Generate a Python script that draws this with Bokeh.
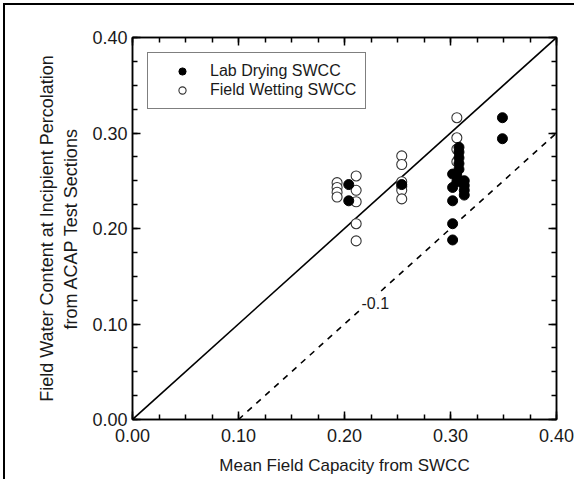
from bokeh.plotting import figure
from bokeh.models import (LinearAxis, FixedTicker, PrintfTickFormatter, Label,
                          Legend, LegendItem, Range1d)
from bokeh.embed import file_html
from bokeh.resources import INLINE

# ---- data ----
lab_x = [0.204, 0.204, 0.254, 0.302, 0.302, 0.302, 0.302, 0.302,
         0.308, 0.308, 0.308, 0.308, 0.308, 0.306, 0.306,
         0.313, 0.313, 0.313, 0.313, 0.349, 0.349]
lab_y = [0.246, 0.229, 0.246, 0.257, 0.243, 0.229, 0.205, 0.188,
         0.285, 0.280, 0.274, 0.268, 0.262, 0.255, 0.249,
         0.250, 0.245, 0.240, 0.235, 0.316, 0.294]

field_x = [0.193, 0.193, 0.193, 0.193,
           0.211, 0.211, 0.211, 0.211, 0.211,
           0.254, 0.254, 0.254, 0.254, 0.254, 0.254,
           0.306, 0.306, 0.306, 0.306]
field_y = [0.248, 0.243, 0.238, 0.233,
           0.255, 0.240, 0.228, 0.205, 0.187,
           0.276, 0.267, 0.249, 0.244, 0.240, 0.231,
           0.316, 0.295, 0.283, 0.270]

one_to_one_x = [0.0, 0.4]
one_to_one_y = [0.0, 0.4]
offset_x = [0.1, 0.4]
offset_y = [0.0, 0.3]
offset_text = "-0.1"

major_ticks = [0.0, 0.1, 0.2, 0.3, 0.4]
minor_ticks = [i * 0.025 for i in range(17)]

FONT = "Liberation Sans"
TXT = "#1a1a1a"

p = figure(frame_width=424, frame_height=382,
           min_border_left=132, min_border_right=18,
           min_border_top=37, min_border_bottom=60,
           x_range=Range1d(0, 0.4), y_range=Range1d(0, 0.4),
           output_backend="svg", toolbar_location=None)
p.grid.visible = False
p.outline_line_color = "black"
p.outline_line_width = 1.5
p.background_fill_color = "white"
p.border_fill_color = None
p.styles = {"box-shadow": "inset 3px 3px 0 0 white, inset 5px 5px 0 0 black"}


def style_axis(ax, labels=True, standoff=6):
    ax.ticker = FixedTicker(ticks=major_ticks, minor_ticks=minor_ticks)
    ax.formatter = PrintfTickFormatter(format="%.2f")
    ax.axis_line_color = "black"
    ax.axis_line_width = 1.5
    ax.major_tick_in = 8
    ax.major_tick_out = 0
    ax.minor_tick_in = 5
    ax.minor_tick_out = 0
    ax.major_tick_line_width = 1.5
    ax.minor_tick_line_width = 1.5
    ax.major_label_text_font = FONT
    if labels:
        ax.major_label_text_color = TXT
        ax.major_label_text_font_size = "18px"
        ax.major_label_standoff = standoff
    else:
        ax.major_label_text_color = None
        ax.major_label_text_font_size = "1px"
        ax.major_label_standoff = 0


for ax in p.xaxis:
    style_axis(ax, standoff=9)
for ax in p.yaxis:
    style_axis(ax, standoff=5)

p.yaxis.axis_label = "Field Water Content at Incipient Percolation\nfrom ACAP Test Sections"
p.yaxis.axis_label_text_font = FONT
p.yaxis.axis_label_text_font_size = "18px"
p.yaxis.axis_label_text_font_style = "normal"
p.yaxis.axis_label_text_color = TXT
p.yaxis.axis_label_text_align = "center"
p.yaxis.axis_label_standoff = 8

p.xaxis.axis_label = "Mean Field Capacity from SWCC"
p.xaxis.axis_label_text_font = FONT
p.xaxis.axis_label_text_font_size = "17px"
p.xaxis.axis_label_text_font_style = "normal"
p.xaxis.axis_label_text_color = TXT
p.xaxis.axis_label_standoff = 11

top_ax = LinearAxis()
style_axis(top_ax, labels=False)
p.add_layout(top_ax, "above")
right_ax = LinearAxis()
style_axis(right_ax, labels=False)
p.add_layout(right_ax, "right")

# reference lines
p.line(one_to_one_x, one_to_one_y, line_color="black", line_width=1.6)
p.line(offset_x, offset_y, line_color="black", line_width=1.6, line_dash="6 6")

# points
r_field = p.scatter(field_x, field_y, marker="circle", size=10,
                    fill_color="white", line_color="#333333", line_width=1.1)
r_lab = p.scatter(lab_x, lab_y, marker="circle", size=10,
                  fill_color="black", line_color="black")

legend = Legend(items=[LegendItem(label="Lab Drying SWCC", renderers=[r_lab]),
                       LegendItem(label="Field Wetting SWCC", renderers=[r_field])],
                location=(15, 310))
legend.label_text_font = FONT
legend.label_text_font_size = "16px"
legend.label_text_color = TXT
legend.label_height = 18
legend.glyph_height = 18
legend.glyph_width = 50
legend.label_standoff = 3
legend.spacing = 1
legend.padding = 9
legend.margin = 0
legend.border_line_color = "black"
legend.border_line_width = 1.5
legend.background_fill_alpha = 1
p.add_layout(legend)

# offset annotation (white box masks the dashed line behind it)
p.add_layout(Label(x=0.229, y=0.1225, text=offset_text, text_align="center",
                   text_baseline="middle", text_font=FONT,
                   text_font_size="16px", text_color=TXT,
                   background_fill_color="white", padding=2))

open("out.html", "w").write(file_html(p, INLINE))
